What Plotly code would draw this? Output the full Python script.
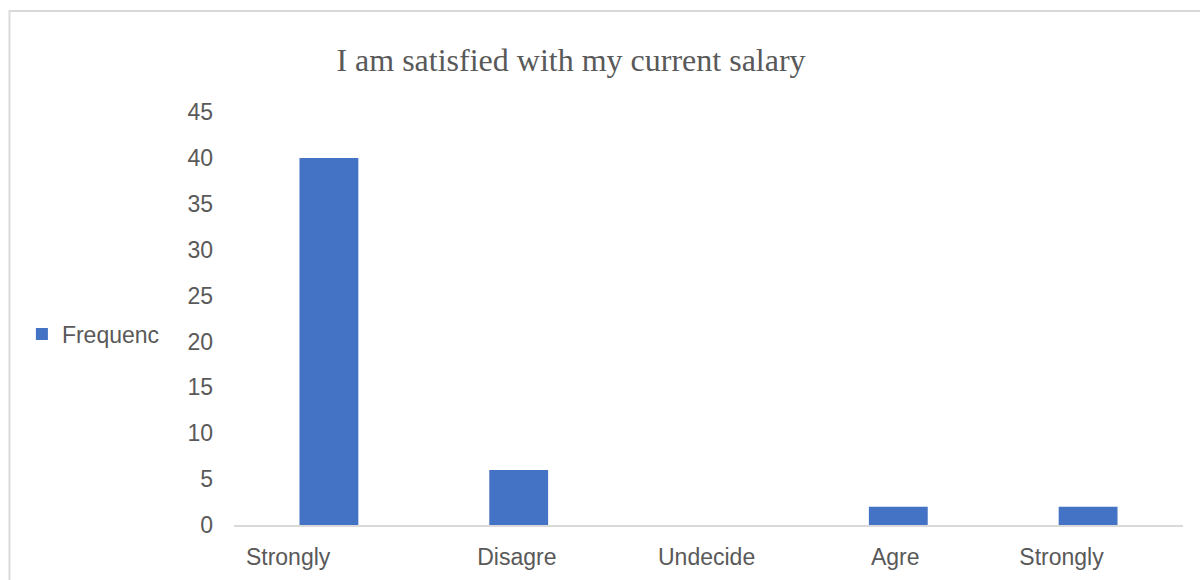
import plotly.graph_objects as go

# Survey responses: "I am satisfied with my current salary"
categories = ["Strongly", "Disagre", "Undecide", "Agre", "Strongly"]
frequency = [40, 6, 0, 2, 2]
y_ticks = [0, 5, 10, 15, 20, 25, 30, 35, 40, 45]

# Category slots on a numeric x axis; truncated labels sit slightly left of their bars
slots = list(range(len(categories)))
label_shift = [-0.215, -0.01, -0.01, -0.016, -0.14]

BAR_COLOR = "#4472C4"
TEXT_COLOR = "#595959"
LINE_COLOR = "#D9D9D9"

fig = go.Figure(
    go.Bar(
        x=slots,
        y=frequency,
        name="Frequenc",
        marker=dict(color=BAR_COLOR, line=dict(width=0)),
        width=0.31,
    )
)

fig.update_layout(
    width=1200,
    height=580,
    margin=dict(l=234, r=17, t=112, b=55),
    paper_bgcolor="white",
    plot_bgcolor="white",
    font=dict(family="Liberation Sans, Arial, sans-serif", size=23, color=TEXT_COLOR),
    title=dict(
        text="I am satisfied with my current salary",
        font=dict(family="Liberation Serif, Times New Roman, serif", size=32, color=TEXT_COLOR),
        x=571 / 1200,
        xanchor="center",
        y=1 - 60 / 580,
        yanchor="middle",
    ),
    showlegend=True,
    legend=dict(
        x=-0.2235,
        xanchor="left",
        y=0.4625,
        yanchor="middle",
        itemwidth=30,
        bgcolor="rgba(0,0,0,0)",
        font=dict(size=23, color=TEXT_COLOR),
    ),
    shapes=[
        dict(
            type="rect",
            xref="paper",
            yref="paper",
            x0=(9.5 - 234) / 949,
            x1=1.2,
            y0=-0.3,
            y1=(525 - 11) / 413,
            line=dict(color=LINE_COLOR, width=2),
            layer="below",
        )
    ],
)

fig.update_xaxes(
    range=[-0.5, len(categories) - 0.5],
    tickvals=[s + d for s, d in zip(slots, label_shift)],
    ticktext=categories,
    automargin=False,
    showgrid=False,
    zeroline=False,
    showline=True,
    linecolor=LINE_COLOR,
    linewidth=2,
    ticks="",
    ticklabelstandoff=10,
    tickfont=dict(size=23, color=TEXT_COLOR),
)
fig.update_yaxes(
    range=[0, 45],
    tickvals=y_ticks,
    automargin=False,
    showgrid=False,
    zeroline=False,
    showline=False,
    ticks="",
    ticklabelstandoff=20,
    tickfont=dict(size=23, color=TEXT_COLOR),
)

fig.write_html("out.html")
